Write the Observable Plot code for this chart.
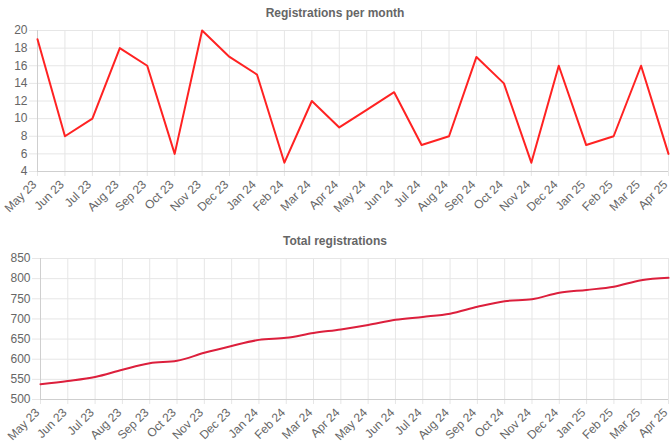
<!DOCTYPE html>
<html><head><meta charset="utf-8">
<script src="https://cdn.jsdelivr.net/npm/d3@7"></script>
<script src="https://cdn.jsdelivr.net/npm/@observablehq/plot@0.6"></script>
<style>
body{margin:0;background:#fff;font-family:"Liberation Sans",Arial,Helvetica,sans-serif;}
#wrap{position:relative;width:670px;height:448px;overflow:hidden;}
.title{position:absolute;left:0;width:670px;text-align:center;font-weight:bold;font-size:12px;color:#666;}
.chart{position:absolute;left:0;}
svg text{fill:#666;}
</style></head><body>
<div id="wrap">
  <div class="title" style="top:6px">Registrations per month</div>
  <div class="chart" id="c1" style="top:22px"></div>
  <div class="title" style="top:234px">Total registrations</div>
  <div class="chart" id="c2" style="top:250px"></div>
</div>
<script>
const months = ["May 23","Jun 23","Jul 23","Aug 23","Sep 23","Oct 23","Nov 23","Dec 23","Jan 24","Feb 24","Mar 24","Apr 24","May 24","Jun 24","Jul 24","Aug 24","Sep 24","Oct 24","Nov 24","Dec 24","Jan 25","Feb 25","Mar 25","Apr 25"];
const perMonth = [19,8,10,18,16,6,20,17,15,5,12,9,11,13,7,8,17,14,5,16,7,8,16,6];
const total = [538,546,556,574,590,596,616,633,648,653,665,674,685,698,705,713,730,744,749,765,772,780,796,802];
const ticks1 = [4,6,8,10,12,14,16,18,20];
const ticks2 = [500,550,600,650,700,750,800,850];

const grid = "#e6e6e6";
const font = "'Liberation Sans',Arial,Helvetica,sans-serif";
function chart(values, yTicks, yDomain, opts) {
  const data = months.map((m, i) => ({m, v: values[i]}));
  return Plot.plot({
    width: 670, height: opts.height,
    marginLeft: opts.ml, marginRight: 2, marginTop: 8, marginBottom: opts.mb,
    style: {fontSize: "12px", fontFamily: font, color: "#666"},
    x: {type: "point", domain: months, padding: 0, round: false},
    y: {domain: yDomain},
    marks: [
      Plot.ruleX(months, {x: d => d, y1: yDomain[0], y2: yDomain[1], stroke: grid, strokeWidth: 1}),
      Plot.ruleY(yTicks, {y: d => d, stroke: grid, strokeWidth: 1}),
      Plot.axisX({ticks: months, tickSize: 5, tickFormat: () => "", stroke: grid, strokeOpacity: 1, label: null}),
      Plot.axisX({ticks: months, tickRotate: -45, tickSize: 0, tickPadding: 11, dx: -3, fontSize: 12, label: null, fill: "#666"}),
      Plot.axisY({ticks: yTicks, tickSize: 8, tickPadding: 2, fontSize: 12, stroke: grid, strokeOpacity: 1, label: null, fill: "#666"}),
      Plot.ruleY([yDomain[0]], {stroke: "#cfcfcf"}),
      Plot.ruleX([months[0]], {stroke: "#cfcfcf"}),
      Plot.line(data, {x: "m", y: "v", stroke: opts.color, strokeWidth: 2, curve: opts.curve})
    ]
  });
}
document.getElementById("c1").appendChild(chart(perMonth, ticks1, [4, 20], {height: 202, ml: 37, mb: 53, color: "#ff2222", curve: "linear"}));
document.getElementById("c2").appendChild(chart(total, ticks2, [500, 850], {height: 198, ml: 40, mb: 49, color: "#dc1f3c", curve: "monotone-x"}));
</script>
</body></html>
